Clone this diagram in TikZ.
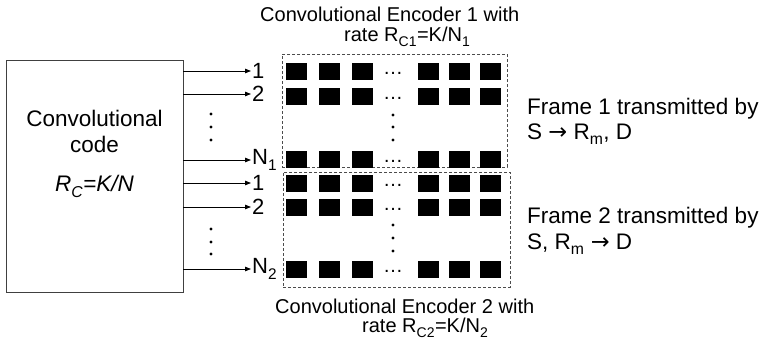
\documentclass[tikz,border=0pt]{standalone}
\usepackage{fontspec}
\setmainfont{Liberation Sans}
\newfontfamily\arrfont{DejaVu Sans}
\usetikzlibrary{arrows.meta}

\def\xL{251}   % column of the output labels
\def\xD{393}   % column of the dots
\def\xV{211}   % column of the dots between the arrows
\newcommand\dn[1]{\raisebox{-0.1em}{\textsubscript{#1}}}

\begin{document}
\begin{tikzpicture}[x=1pt, y=-1pt,
    blk/.style={fill=black, inner sep=0, minimum width=21pt, minimum height=17pt},
    lbl/.style={anchor=west, inner sep=1pt, font=\fontsize{22}{22}\selectfont},
    hdot/.style={inner sep=0, yshift=-2.5pt, font=\fontsize{20}{20}\selectfont},
    vdot/.style={circle, fill=black, inner sep=0, minimum size=3.4pt},
    frm/.style={draw=black!70, dash pattern=on 3pt off 2pt, line width=0.8pt, inner sep=0},
    arr/.style={-{Triangle[length=6pt,width=4.5pt]}, line width=0.8pt},
    txt/.style={inner sep=0, anchor=north west, align=left}]

    \useasboundingbox (0,0) rectangle (766,341);

    %%   (lable)  (x, y)     {\text}
    \node[draw=black!75, line width=0.9pt, minimum width=177pt, minimum height=232pt] (code) at (94.5,176) {};
    \node[inner sep=0, anchor=north, align=center, font=\fontsize{22.5}{26}\selectfont] (codetxt) at (94.5,109.6)
        {Convolutional\\code\\[13pt]\textit{R\dn{C}=K/N}};

    \node[lbl] (a1) at (\xL, 71) {1};
    \node[lbl] (a2) at (\xL, 94) {2};
    \node[lbl] (an) at (\xL,160) {N\dn{1}};
    \node[lbl] (b1) at (\xL,183) {1};
    \node[lbl] (b2) at (\xL,207) {2};
    \node[lbl] (bn) at (\xL,269) {N\dn{2}};

    \path[arr] (code.east |- a1) edge (a1);
    \path[arr] (code.east |- a2) edge (a2);
    \path[arr] (code.east |- an) edge (an);
    %
    \path[arr] (code.east |- b1) edge (b1);
    \path[arr] (code.east |- b2) edge (b2);
    \path[arr] (code.east |- bn) edge (bn);

    \foreach \y in {114,127,140,229,242,254}
        \node[vdot] (v-\y) at (\xV,\y) {};

    %% the two encoders
    \node[frm, minimum width=225pt, minimum height=113pt] (enc1) at (394.5,110.5) {};
    \node[frm, minimum width=227pt, minimum height=115pt] (enc2) at (396.5,229.5) {};

    \foreach \r in {71,96,159,183,207,269} {
        \foreach \c in {296,329,362,428,459,490}
            \node[blk] (s-\r-\c) at (\c,\r) {};
        \node[hdot] (h-\r) at (\xD,\r) {\ldots};
    }
    \foreach \y in {115,127,140,225,238,251}
        \node[vdot] (w-\y) at (\xD,\y) {};

    \node[txt, font=\fontsize{20}{20}\selectfont] (cap1) at (260,6.4)
        {Convolutional Encoder 1 with\\\hspace*{84pt}rate R\dn{C1}=K/N\dn{1}};
    \node[txt, font=\fontsize{20}{19}\selectfont] (cap2) at (275,298.4)
        {Convolutional Encoder 2 with\\\hspace*{87pt}rate R\dn{C2}=K/N\dn{2}};

    \node[txt, font=\fontsize{22.5}{25}\selectfont] (fr1) at (527,97.6)
        {Frame 1 transmitted by\\S {\arrfont →} R\dn{m}, D};
    \node[txt, font=\fontsize{22.5}{26}\selectfont] (fr2) at (527,206.6)
        {Frame 2 transmitted by\\S, R\dn{m} {\arrfont →} D};

\end{tikzpicture}
\end{document}
